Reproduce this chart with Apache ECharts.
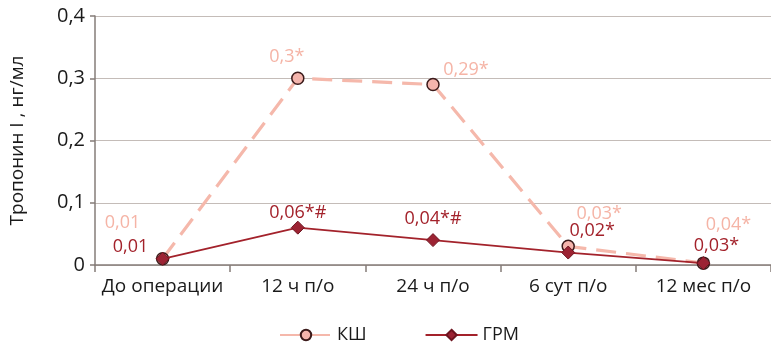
<!DOCTYPE html>
<html><head><meta charset="utf-8">
<script src="https://cdn.jsdelivr.net/npm/echarts@6/dist/echarts.min.js"></script>
<style>html,body{margin:0;padding:0;background:#fff}#c{width:771px;height:347px}</style>
</head><body><div id="c"></div>
<script>
const categories = ['До операции', '12 ч п/о', '24 ч п/о', '6 сут п/о', '12 мес п/о'];
const ksValues = [0.01, 0.30, 0.29, 0.03, 0.003];
const grmValues = [0.01, 0.06, 0.04, 0.02, 0.003];
const ksLabels = ['0,01', '0,3*', '0,29*', '0,03*', '0,04*'];
const grmLabels = ['0,01', '0,06*#', '0,04*#', '0,02*', '0,03*'];
const yTicks = ['0', '0,1', '0,2', '0,3', '0,4'];

const ksOffsets = [[-40,-36],[-11,-21],[33,-15],[31,-32],[25,-38]];
const grmOffsets = [[-32,-12],[0,-15],[0,-21],[24,-22],[13,-17]];
const FONT = 'Open Sans';

function build(vals, labels, offsets, color) {
  return vals.map((v, i) => ({
    value: v,
    label: { show: true, position: 'inside', offset: offsets[i], formatter: labels[i],
      color: color, fontSize: 18, fontFamily: FONT }
  }));
}

const chart = echarts.init(document.getElementById('c'));
chart.setOption({
  animation: false,
  grid: { left: 93, top: 16, width: 681, height: 249 },
  xAxis: {
    type: 'category', data: categories, boundaryGap: true,
    axisLine: { lineStyle: { color: '#857c78', width: 1.5 } },
    axisTick: { show: true, length: 7, lineStyle: { color: '#857c78', width: 1.5 } },
    axisLabel: { interval: 0, color: '#1a1a1a', fontSize: 19, fontFamily: FONT, margin: 12 }
  },
  yAxis: {
    type: 'value', min: 0, max: 0.4, interval: 0.1,
    name: 'Тропонин I , нг/мл', nameLocation: 'middle', nameGap: 68,
    nameTextStyle: { color: '#1a1a1a', fontSize: 19, fontFamily: FONT },
    axisLine: { show: true, lineStyle: { color: '#857c78', width: 1.5 } },
    axisTick: { show: true, length: 5, lineStyle: { color: '#857c78', width: 1.5 } },
    axisLabel: { color: '#1a1a1a', fontSize: 20, fontFamily: FONT, margin: 10,
      formatter: (v) => yTicks[Math.round(v * 10)] },
    splitLine: { lineStyle: { color: '#c4bcb8', width: 1 } }
  },
  legend: {
    left: 274, top: 321, itemWidth: 52, itemHeight: 13, itemGap: 58,
    textStyle: { color: '#1a1a1a', fontSize: 18, fontFamily: FONT },
    data: ['КШ', 'ГРМ']
  },
  series: [
    {
      name: 'ГРМ', type: 'line', data: build(grmValues, grmLabels, grmOffsets, '#a3222b'),
      symbol: 'diamond', symbolSize: 13,
      lineStyle: { color: '#a3222b', width: 1.8 },
      itemStyle: { color: '#9c2333', borderColor: '#6e1520', borderWidth: 1 },
      z: 3
    },
    {
      name: 'КШ', type: 'line', data: build(ksValues, ksLabels, ksOffsets, '#f5b4a6'),
      symbol: 'circle', symbolSize: 12,
      lineStyle: { color: '#f5b8ab', width: 3.2, type: [20, 10] },
      itemStyle: { color: '#f4b4ac', borderColor: '#3b1a1a', borderWidth: 1.5 },
      z: 2
    }
  ]
});
</script></body></html>
